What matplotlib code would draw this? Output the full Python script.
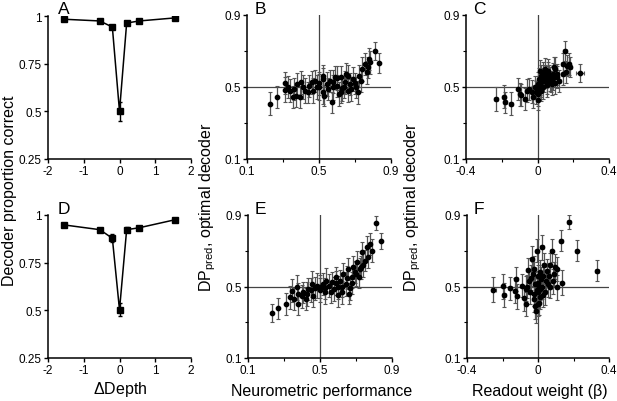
import matplotlib
matplotlib.use('Agg')
import matplotlib.pyplot as plt

plt.rcParams['font.family'] = ['Liberation Sans', 'DejaVu Sans']
plt.rcParams['mathtext.fontset'] = 'custom'
plt.rcParams['mathtext.rm'] = 'Liberation Sans'

# ---- panels A / D : decoder proportion correct vs depth difference
depth = [-1.55, -0.55, -0.2, 0.0, 0.2, 0.55, 1.55]
pc_top = [0.983, 0.974, 0.942, 0.50, 0.963, 0.974, 0.99]
pc_top_err = [0.006, 0.007, 0.012, 0.05, 0.008, 0.006, 0.005]
pc_bot = [0.948, 0.923, 0.878, 0.503, 0.923, 0.933, 0.975]
pc_bot_err = [0.006, 0.01, 0.02, 0.035, 0.012, 0.01, 0.006]

# ---- panel B : neurometric performance vs DPpred
b_x = [0.228, 0.268, 0.309, 0.31, 0.339, 0.354, 0.376, 0.372, 0.394, 0.398,
       0.422, 0.446, 0.459, 0.468, 0.478, 0.487, 0.50, 0.52, 0.524, 0.53,
       0.546, 0.561, 0.57, 0.58, 0.589, 0.602, 0.613, 0.62, 0.63, 0.644,
       0.652, 0.661, 0.67, 0.69, 0.704, 0.717, 0.731, 0.737, 0.756, 0.765,
       0.774, 0.78, 0.783, 0.811, 0.835, 0.44, 0.50, 0.55, 0.60, 0.64,
       0.66, 0.70, 0.72, 0.58, 0.62, 0.68, 0.52, 0.41, 0.36, 0.33]
b_y = [0.407, 0.444, 0.522, 0.485, 0.48, 0.443, 0.517, 0.452, 0.443, 0.526,
       0.48, 0.507, 0.526, 0.48, 0.535, 0.50, 0.50, 0.544, 0.47, 0.452,
       0.517, 0.535, 0.415, 0.498, 0.554, 0.507, 0.461, 0.554, 0.493, 0.526,
       0.572, 0.48, 0.517, 0.544, 0.498, 0.47, 0.535, 0.60, 0.628, 0.581,
       0.609, 0.656, 0.637, 0.702, 0.632, 0.47, 0.52, 0.49, 0.55, 0.50,
       0.56, 0.52, 0.56, 0.53, 0.47, 0.49, 0.56, 0.50, 0.49, 0.50]
b_err = [0.065, 0.06, 0.06, 0.07, 0.065, 0.06, 0.06, 0.065, 0.06, 0.065,
         0.07, 0.06, 0.065, 0.07, 0.06, 0.065, 0.07, 0.06, 0.065, 0.06,
         0.065, 0.06, 0.06, 0.07, 0.065, 0.06, 0.065, 0.06, 0.07, 0.065,
         0.06, 0.065, 0.06, 0.065, 0.06, 0.065, 0.06, 0.065, 0.06, 0.065,
         0.06, 0.06, 0.065, 0.05, 0.055, 0.06, 0.065, 0.06, 0.065, 0.06,
         0.065, 0.06, 0.06, 0.065, 0.06, 0.065, 0.06, 0.065, 0.06, 0.06]

# ---- panel C : readout weight vs DPpred
c_x = [-0.232, -0.186, -0.182, -0.147, -0.107, -0.10, -0.094, -0.07, -0.06, -0.045,
       -0.031, -0.024, -0.014, 0.0, 0.004, 0.01, 0.018, 0.022, 0.029, 0.035,
       0.04, 0.051, 0.06, 0.07, 0.079, 0.088, 0.098, 0.107, 0.12, 0.14,
       0.155, 0.159, 0.167, 0.182, 0.178, 0.238, 0.143, 0.092, 0.0, 0.005,
       0.012, 0.02, 0.025, 0.03, 0.045, 0.055, 0.065, 0.075, 0.085, 0.10,
       0.11, -0.01, 0.015, 0.04, 0.06, 0.0]
c_y = [0.433, 0.446, 0.415, 0.407, 0.489, 0.46, 0.454, 0.433, 0.48, 0.489,
       0.475, 0.443, 0.498, 0.48, 0.517, 0.544, 0.563, 0.507, 0.581, 0.535,
       0.563, 0.526, 0.581, 0.544, 0.517, 0.572, 0.60, 0.554, 0.535, 0.628,
       0.702, 0.581, 0.619, 0.609, 0.628, 0.578, 0.572, 0.609, 0.46, 0.50,
       0.52, 0.48, 0.545, 0.50, 0.555, 0.51, 0.56, 0.53, 0.55, 0.52,
       0.57, 0.47, 0.59, 0.60, 0.59, 0.43]
c_yerr = [0.065, 0.065, 0.06, 0.065, 0.06, 0.065, 0.06, 0.06, 0.065, 0.06,
          0.065, 0.06, 0.065, 0.06, 0.065, 0.06, 0.06, 0.065, 0.06, 0.065,
          0.06, 0.065, 0.06, 0.065, 0.06, 0.06, 0.065, 0.06, 0.06, 0.06,
          0.055, 0.06, 0.06, 0.055, 0.06, 0.05, 0.06, 0.06, 0.065, 0.06,
          0.065, 0.06, 0.06, 0.065, 0.06, 0.065, 0.06, 0.06, 0.065, 0.06,
          0.06, 0.065, 0.06, 0.06, 0.065, 0.06]
c_xerr = [0.01] * 35 + [0.02] + [0.01] * 20

# ---- panel E : neurometric performance vs DPpred (second dataset)
e_x = [0.232, 0.268, 0.311, 0.333, 0.346, 0.357, 0.37, 0.379, 0.398, 0.404,
       0.426, 0.432, 0.454, 0.46, 0.472, 0.481, 0.50, 0.518, 0.528, 0.531,
       0.55, 0.565, 0.58, 0.587, 0.602, 0.611, 0.624, 0.63, 0.643, 0.654,
       0.667, 0.676, 0.685, 0.693, 0.704, 0.717, 0.728, 0.735, 0.75, 0.76,
       0.769, 0.778, 0.787, 0.811, 0.839, 0.50, 0.56, 0.59, 0.62, 0.65,
       0.68, 0.70, 0.72, 0.74, 0.53, 0.45, 0.38, 0.42, 0.60, 0.66]
e_y = [0.352, 0.378, 0.402, 0.44, 0.477, 0.43, 0.495, 0.402, 0.445, 0.467,
       0.458, 0.486, 0.514, 0.445, 0.49, 0.504, 0.48, 0.514, 0.468, 0.532,
       0.504, 0.523, 0.486, 0.551, 0.495, 0.532, 0.468, 0.57, 0.514, 0.598,
       0.49, 0.551, 0.607, 0.58, 0.635, 0.551, 0.607, 0.691, 0.645, 0.719,
       0.663, 0.738, 0.70, 0.855, 0.756, 0.50, 0.47, 0.52, 0.50, 0.55,
       0.52, 0.57, 0.60, 0.62, 0.49, 0.48, 0.46, 0.43, 0.45, 0.46]
e_err = [0.05, 0.06, 0.06, 0.065, 0.065, 0.06, 0.07, 0.06, 0.065, 0.06,
         0.065, 0.06, 0.07, 0.06, 0.065, 0.07, 0.065, 0.06, 0.065, 0.07,
         0.065, 0.06, 0.065, 0.06, 0.065, 0.06, 0.065, 0.06, 0.065, 0.06,
         0.065, 0.06, 0.065, 0.06, 0.065, 0.06, 0.065, 0.06, 0.06, 0.065,
         0.06, 0.06, 0.065, 0.04, 0.045, 0.065, 0.06, 0.065, 0.06, 0.065,
         0.06, 0.065, 0.06, 0.065, 0.06, 0.065, 0.06, 0.06, 0.065, 0.06]

# ---- panel F : readout weight vs DPpred (second dataset)
f_x = [-0.252, -0.195, -0.192, -0.158, -0.13, -0.124, -0.12, -0.092, -0.077, -0.07,
       -0.065, -0.058, -0.05, -0.047, -0.036, -0.03, -0.025, -0.017, -0.011, -0.007,
       0.0, 0.002, 0.008, 0.01, 0.024, 0.03, 0.04, 0.049, 0.058, 0.067,
       0.077, 0.082, 0.09, 0.096, 0.105, 0.108, 0.13, 0.133, 0.175, 0.218,
       0.331, -0.02, 0.0, 0.005, 0.012, 0.015, -0.005, 0.02, 0.03, -0.015,
       0.0, 0.01, 0.045, 0.06, 0.07, -0.04, -0.06, -0.02, 0.035]
f_y = [0.482, 0.501, 0.452, 0.49, 0.477, 0.542, 0.445, 0.504, 0.434, 0.402,
       0.487, 0.594, 0.53, 0.468, 0.654, 0.57, 0.43, 0.514, 0.365, 0.70,
       0.47, 0.556, 0.41, 0.488, 0.719, 0.556, 0.468, 0.587, 0.514, 0.622,
       0.70, 0.53, 0.57, 0.61, 0.598, 0.495, 0.756, 0.522, 0.859, 0.70,
       0.589, 0.46, 0.52, 0.50, 0.44, 0.54, 0.48, 0.50, 0.45, 0.39,
       0.40, 0.58, 0.53, 0.56, 0.50, 0.55, 0.50, 0.60, 0.62]
f_yerr = [0.07, 0.07, 0.065, 0.065, 0.07, 0.065, 0.07, 0.065, 0.07, 0.065,
          0.07, 0.065, 0.07, 0.065, 0.07, 0.065, 0.07, 0.065, 0.07, 0.065,
          0.07, 0.065, 0.07, 0.065, 0.07, 0.065, 0.07, 0.065, 0.07, 0.065,
          0.065, 0.07, 0.065, 0.07, 0.065, 0.07, 0.06, 0.07, 0.04, 0.06,
          0.06, 0.07, 0.065, 0.07, 0.065, 0.07, 0.065, 0.07, 0.065, 0.07,
          0.065, 0.07, 0.065, 0.07, 0.065, 0.07, 0.065, 0.07, 0.065]
f_xerr = [0.015] + [0.01] * 58

W, H = 617, 402
fig = plt.figure(figsize=(W / 100, H / 100), dpi=100)


def box(l, t, w, h):
    return fig.add_axes([l / W, 1 - (t + h) / H, w / W, h / H])


axA = box(48, 17, 143, 143)
axB = box(247, 16, 144, 144)
axC = box(466, 16, 143, 144)
axD = box(48, 216, 143, 143)
axE = box(248, 216, 144, 143)
axF = box(467, 216, 142, 143)


def style(ax):
    for s in ['top', 'right']:
        ax.spines[s].set_visible(False)
    for s in ['left', 'bottom']:
        ax.spines[s].set_linewidth(1.1)
    ax.tick_params(which='major', direction='out', length=3, width=1, labelsize=8.5, pad=1.5)
    ax.tick_params(which='minor', direction='out', length=2, width=0.8)


for ax, vals, err in [(axA, pc_top, pc_top_err), (axD, pc_bot, pc_bot_err)]:
    ax.errorbar(depth, vals, yerr=err, color='black', marker='s', markersize=4.5,
                lw=1.1, capsize=1.5, elinewidth=1)
    ax.set_xlim(-2, 2)
    ax.set_ylim(0.25, 1)
    ax.set_xticks([-2, -1, 0, 1, 2])
    ax.set_xticklabels(['-2', '-1', '0', '1', '2'])
    ax.set_yticks([0.25, 0.5, 0.75, 1])
    ax.set_yticklabels(['0.25', '0.5', '0.75', '1'])
    style(ax)


def scatter_panel(ax, x, y, yerr, xerr, xlim, xt, xtl, xminor, vline):
    ax.axhline(0.5, color='#444444', lw=0.9, zorder=1)
    ax.axvline(vline, color='#444444', lw=0.9, zorder=1)
    ax.errorbar(x, y, yerr=yerr, xerr=xerr, fmt='o', color='black', markersize=3.1,
                ecolor='#555555', elinewidth=0.9, capsize=1.5, capthick=0.8, zorder=3)
    ax.set_xlim(*xlim)
    ax.set_ylim(0.1, 0.9)
    ax.set_xticks(xt)
    ax.set_xticklabels(xtl)
    ax.set_xticks(xminor, minor=True)
    ax.set_yticks([0.1, 0.5, 0.9])
    ax.set_yticklabels(['0.1', '0.5', '0.9'])
    ax.set_yticks([0.3, 0.7], minor=True)
    style(ax)


scatter_panel(axB, b_x, b_y, b_err, None, (0.1, 0.9), [0.1, 0.5, 0.9],
              ['0.1', '0.5', '0.9'], [0.3, 0.7], 0.5)
scatter_panel(axE, e_x, e_y, e_err, None, (0.1, 0.9), [0.1, 0.5, 0.9],
              ['0.1', '0.5', '0.9'], [0.3, 0.7], 0.5)
scatter_panel(axC, c_x, c_y, c_yerr, c_xerr, (-0.4, 0.4), [-0.4, 0, 0.4],
              ['-0.4', '0', '0.4'], [-0.2, 0.2], 0)
scatter_panel(axF, f_x, f_y, f_yerr, f_xerr, (-0.4, 0.4), [-0.4, 0, 0.4],
              ['-0.4', '0', '0.4'], [-0.2, 0.2], 0)

# panel letters
for lab, px, py in [('A', 58, 14), ('B', 255, 14), ('C', 473, 14),
                    ('D', 58, 214), ('E', 255, 214), ('F', 474, 214)]:
    fig.text(px / W, 1 - py / H, lab, fontsize=12.5, ha='left', va='baseline')

# axis labels
fig.text(10 / W, 1 - 191 / H, 'Decoder proportion correct', rotation=90,
         ha='center', va='center', fontsize=11.5)
dp = r'DP$_{\mathrm{pred}}$, optimal decoder'
fig.text(208 / W, 1 - 207 / H, dp, rotation=90, ha='center', va='center', fontsize=11.5)
fig.text(413 / W, 1 - 207 / H, dp, rotation=90, ha='center', va='center', fontsize=11.5)
fig.text(120 / W, 1 - 390 / H, r'$\Delta$Depth', ha='center', va='center', fontsize=11.5)
fig.text(322 / W, 1 - 392 / H, 'Neurometric performance', ha='center', va='center', fontsize=11.5)
fig.text(540 / W, 1 - 392 / H, 'Readout weight (\u03b2)', ha='center', va='center', fontsize=11.5)

fig.savefig('out.png', dpi=100)
